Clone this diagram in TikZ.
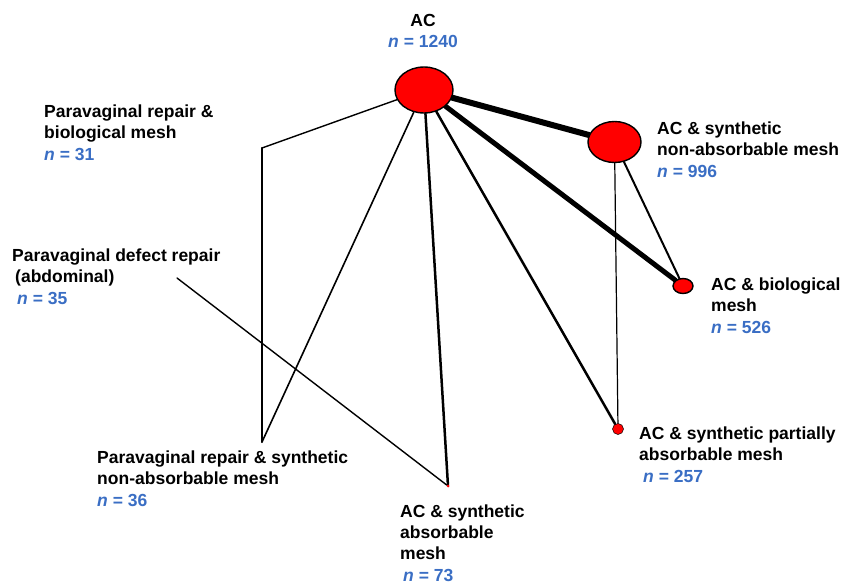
\documentclass[tikz,border=0pt]{standalone}
\usepackage{fontspec}
\setmainfont{Liberation Sans}
\usepackage{xcolor}
\usetikzlibrary{shapes.geometric,backgrounds}
\definecolor{nblue}{RGB}{58,110,196}
\newcommand\nn[1]{\textcolor{nblue}{\textit{n} = #1}}

\begin{document}
\begin{tikzpicture}[x=1pt,y=-1pt,
    trt/.style={draw=black,line width=1.4pt,fill=red,ellipse,inner sep=0pt},
    lbl/.style={anchor=base west,align=left,inner sep=0pt,font=\fontsize{17.5}{21.3}\selectfont\bfseries},
    lnk/.style={line width=#1,line cap=round}]
    \useasboundingbox (0,0) rectangle (845,583);

    % treatments
    \node[trt,minimum width=58pt,minimum height=46pt] (AC) at (424,90) {};
    \node[trt,minimum width=53pt,minimum height=41pt] (ACsnm) at (614.5,142) {};
    \node[trt,minimum width=20pt,minimum height=15pt] (ACbio) at (683,286) {};
    \node[trt,line width=0.5pt,minimum width=11pt,minimum height=11pt] (ACspam) at (618,429) {};
    \node[trt,line width=0pt,draw=none,minimum width=3pt,minimum height=3pt] (ACsam) at (448,486) {};
    \coordinate (PRbio) at (262,148);
    \coordinate (PRsnm) at (262,442);
    \coordinate (PDR) at (177,278);

    % labels (anchored at the baseline of the last line)
    \node[lbl,align=center,anchor=base] (ACtxt) at (423,48) {AC\\\nn{1240}};
    \node[lbl] (PRbiotxt) at (44,160) {Paravaginal repair \&\\biological mesh\\\nn{31}};
    \node[lbl] (ACsnmtxt) at (657,177) {AC \& synthetic\\non-absorbable mesh\\\nn{996}};
    \node[lbl] (PDRtxt) at (12,304) {Paravaginal defect repair\\\hspace*{3pt}(abdominal)\\\hspace*{5pt}\nn{35}};
    \node[lbl] (ACbiotxt) at (711,333) {AC \& biological\\mesh\\\nn{526}};
    \node[lbl] (ACspamtxt) at (639,482) {AC \& synthetic partially\\absorbable mesh\\\hspace*{4pt}\nn{257}};
    \node[lbl] (PRsnmtxt) at (97,506) {Paravaginal repair \& synthetic\\non-absorbable mesh\\\nn{36}};
    \node[lbl] (ACsamtxt) at (400,581) {AC \& synthetic\\absorbable\\mesh\\\hspace*{3pt}\nn{73}};

    % comparisons
    \begin{pgfonlayer}{background}
    \draw[lnk=6pt] (AC) -- (ACsnm);
    \draw[lnk=5pt] (AC) -- (ACbio);
    \draw[lnk=2.5pt] (AC) -- (ACspam);
    \draw[lnk=2.5pt] (AC) -- (ACsam);
    \draw[lnk=1.6pt] (AC) -- (PRsnm);
    \draw[lnk=1.4pt] (AC) -- (PRbio);
    \draw[lnk=2pt] (PRbio) -- (PRsnm);
    \draw[lnk=1.4pt] (PDR) -- (ACsam);
    \draw[lnk=2pt] (ACsnm) -- (ACbio);
    \draw[lnk=1.2pt] (ACsnm) -- (ACspam);
    \end{pgfonlayer}
\end{tikzpicture}
\end{document}
